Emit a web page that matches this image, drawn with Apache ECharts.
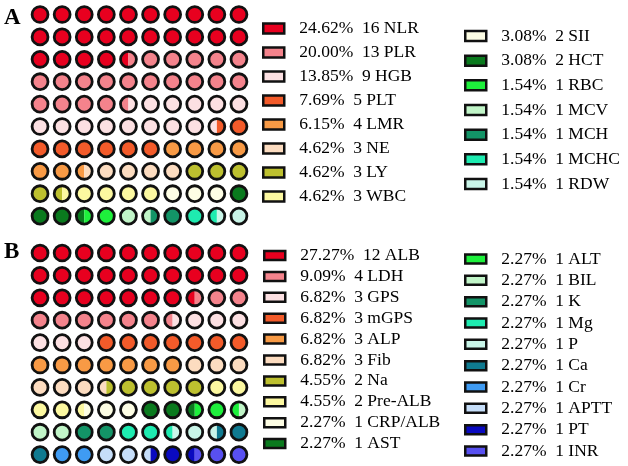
<!DOCTYPE html>
<html>
<head>
<meta charset="utf-8">
<script src="https://cdn.jsdelivr.net/npm/echarts@6/dist/echarts.min.js"></script>
<style>
html,body{margin:0;padding:0;background:#fff;}
#chart{width:628px;height:466px;}
</style>
</head>
<body>
<div id="chart"></div>
<script>
// ---- data ----
const catsA = ['NLR','PLR','HGB','PLT','LMR','NE','LY','WBC','SII','HCT','RBC','MCV','MCH','MCHC','RDW'];
const countsA = [16,13,9,5,4,3,3,3,2,2,1,1,1,1,1];
const catsB = ['ALB','LDH','GPS','mGPS','ALP','Fib','Na','Pre-ALB','CRP/ALB','AST','ALT','BIL','K','Mg','P','Ca','Cr','APTT','PT','INR'];
const countsB = [12,4,3,3,3,3,2,2,1,1,1,1,1,1,1,1,1,1,1,1];
const palette = ['#E8001F','#F4838C','#FCE0E2','#F35B2A','#F89A45','#FCDCC0','#BDC02F','#FCF8A0','#FDFDE4','#0A7A1E',
                 '#1EF03C','#C1F5C8','#139467','#1EEBB0','#C9F5E8','#0F7A90','#3F9BF3','#C6DEF9','#0A0AC0','#5850F0'];
const gridCols = 10, gridRows = 10;

// ---- build ----
const labelMap = {};
function pct(c, t){ return (c / t * 100).toFixed(2) + '%'; }
function round2(v){ return Math.round(v * 2) / 2; }

function renderPart(params, api){
  const c = api.coord([api.value(0), api.value(1)]);
  const s = api.size([1, 1]);
  const r = s[0] * 0.37;
  const lo = api.value(2), hi = api.value(3);
  const color = api.visual('color');
  if (lo <= 0 && hi >= 1) {
    return {type:'circle', shape:{cx:c[0], cy:c[1], r:r}, style:{fill:color, stroke:null}};
  }
  let sa, ea;
  if (hi <= 0.5) { sa = Math.PI/2; ea = Math.PI*3/2; }
  else { sa = -Math.PI/2; ea = Math.PI/2; }
  return {type:'sector', shape:{cx:c[0], cy:c[1], r0:0, r:r, startAngle:sa, endAngle:ea, clockwise:true}, style:{fill:color, stroke:null}};
}
function renderOutline(params, api){
  const c = api.coord([api.value(0), api.value(1)]);
  const s = api.size([1, 1]);
  const r = s[0] * 0.36;
  return {type:'circle', shape:{cx:c[0], cy:c[1], r:r}, style:{fill:null, stroke:'#111', lineWidth:2.8}};
}

function buildSeries(cats, counts, gi){
  const total = counts.reduce((a,b)=>a+b,0);
  const cells = gridCols * gridRows;
  let cum = 0;
  const out = [];
  cats.forEach((name, k) => {
    labelMap[name] = pct(counts[k], total) + '  ' + counts[k] + ' ' + name;
    const start = round2(cum / total * cells);
    cum += counts[k];
    const end = round2(cum / total * cells);
    const data = [];
    for (let i = Math.floor(start); i < Math.ceil(end); i++) {
      const lo = Math.max(start, i) - i, hi = Math.min(end, i + 1) - i;
      if (hi - lo > 0) data.push([i % gridCols, Math.floor(i / gridCols), lo, hi]);
    }
    out.push({type:'custom', name:name, xAxisIndex:gi, yAxisIndex:gi, renderItem:renderPart,
      itemStyle:{color:palette[k]}, encode:{x:0, y:1}, data:data, silent:true});
  });
  const cellData = [];
  for (let i = 0; i < cells; i++) cellData.push([i % gridCols, Math.floor(i / gridCols)]);
  out.push({type:'custom', name:'outline'+gi, xAxisIndex:gi, yAxisIndex:gi, renderItem:renderOutline,
    encode:{x:0, y:1}, data:cellData, silent:true});
  return out;
}

const series = buildSeries(catsA, countsA, 0).concat(buildSeries(catsB, countsB, 1));

function legend(names, left, top, lh, gap, ih){
  return {
    data: names, orient:'vertical', left:left, top:top, padding:0, itemGap:gap,
    icon:'rect', itemWidth:21, itemHeight:ih, selectedMode:false,
    itemStyle:{borderColor:'#111', borderWidth:2.5},
    formatter: n => labelMap[n],
    textStyle:{fontFamily:'Liberation Serif', fontSize:17.5, color:'#000', lineHeight:lh, padding:[0,0,0,10]}
  };
}

const axisOff = {show:false};
const option = {
  backgroundColor:'#fff',
  animation:false,
  title:[
    {text:'A', left:4, top:7, padding:0, textStyle:{fontFamily:'Liberation Serif', fontWeight:'bold', fontSize:23, color:'#000'}},
    {text:'B', left:4, top:241, padding:0, textStyle:{fontFamily:'Liberation Serif', fontWeight:'bold', fontSize:23, color:'#000'}}
  ],
  grid:[
    {left:29, top:3.3, width:221, height:224},
    {left:29, top:241.8, width:221, height:224}
  ],
  xAxis:[
    Object.assign({type:'value', min:-0.5, max:9.5, gridIndex:0}, axisOff),
    Object.assign({type:'value', min:-0.5, max:9.5, gridIndex:1}, axisOff)
  ],
  yAxis:[
    Object.assign({type:'value', min:-0.5, max:9.5, inverse:true, gridIndex:0}, axisOff),
    Object.assign({type:'value', min:-0.5, max:9.5, inverse:true, gridIndex:1}, axisOff)
  ],
  legend:[
    legend(catsA.slice(0,8), 262, 18.5, 20, 4.0, 10),
    legend(catsA.slice(8), 464, 26, 20, 4.67, 10),
    legend(catsB.slice(0,10), 263, 246.5, 18, 2.9, 9),
    legend(catsB.slice(10), 464, 250, 18, 3.33, 9)
  ],
  series: series
};
const chart = echarts.init(document.getElementById('chart'), null, {renderer:'canvas'});
chart.setOption(option);
</script>
</body>
</html>
